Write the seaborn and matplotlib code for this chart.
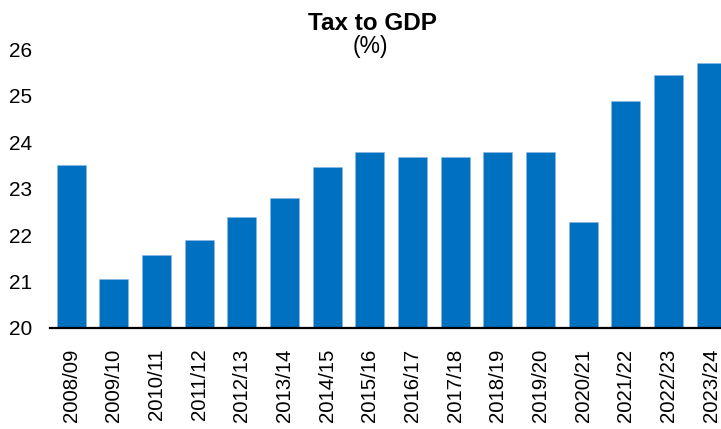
import matplotlib
matplotlib.use("Agg")
import matplotlib.pyplot as plt
import seaborn as sns
import pandas as pd

years = ["2008/09", "2009/10", "2010/11", "2011/12", "2012/13", "2013/14", "2014/15",
         "2015/16", "2016/17", "2017/18", "2018/19", "2019/20", "2020/21", "2021/22",
         "2022/23", "2023/24"]
tax_to_gdp = [23.50, 21.05, 21.57, 21.89, 22.39, 22.81, 23.47, 23.79, 23.68, 23.69,
              23.79, 23.79, 22.29, 24.88, 25.44, 25.70]
y_ticks = [20, 21, 22, 23, 24, 25, 26]

sns.set_theme(style="white")
plt.rcParams["font.family"] = ["Liberation Sans", "DejaVu Sans"]

df = pd.DataFrame({"year": years, "value": tax_to_gdp})

fig = plt.figure(figsize=(7.21, 4.29), dpi=100)
ax = fig.add_axes([50 / 721, 101 / 429, 671 / 721, 278.6 / 429])

sns.barplot(data=df, x="year", y="value", color="#0070C0", width=0.68,
            saturation=1, ax=ax, edgecolor="#8FB8E0", linewidth=0.4)

ax.set_ylim(20, 26)
ax.set_xlim(-0.5, 15.23)
ax.set_yticks(y_ticks)
ax.set_yticklabels([str(t) for t in y_ticks])
ax.set_xlabel("")
ax.set_ylabel("")
for s in ["top", "right", "left"]:
    ax.spines[s].set_visible(False)
ax.spines["bottom"].set_color("black")
ax.spines["bottom"].set_linewidth(1.6)
ax.tick_params(axis="y", length=0, pad=13, labelsize=15, labelcolor="black")
ax.tick_params(axis="x", length=0, pad=15, labelsize=14.7, labelcolor="black")
plt.setp(ax.get_xticklabels(), rotation=90, ha="center", va="top")

fig.text(372 / 721, 1 - 30 / 429, "Tax to GDP", ha="center", va="baseline",
         fontsize=17.5, fontweight="bold", color="black")
fig.text(370 / 721, 1 - 53 / 429, "(%)", ha="center", va="baseline",
         fontsize=16.5, color="black")

fig.savefig("out.png", dpi=100)
